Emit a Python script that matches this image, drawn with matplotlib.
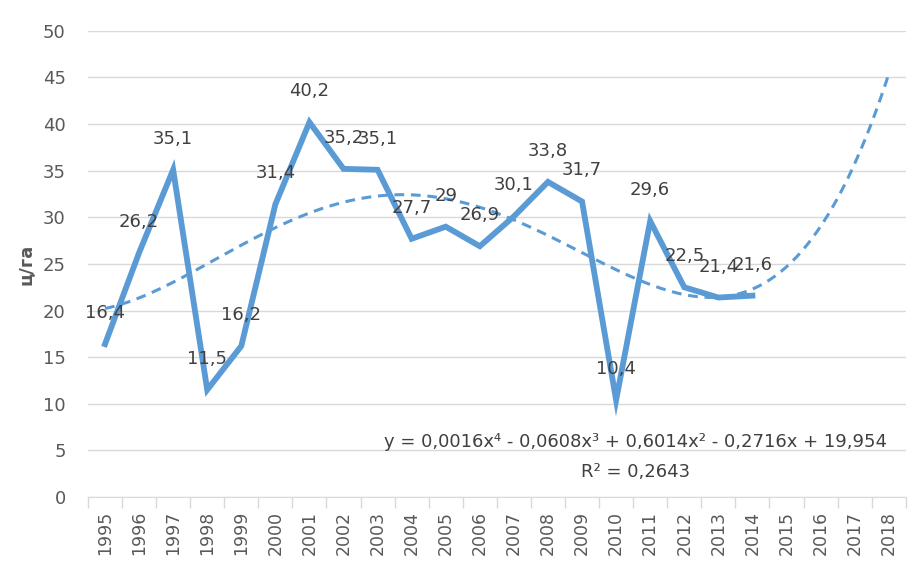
import numpy as np
import matplotlib
matplotlib.use("Agg")
import matplotlib.pyplot as plt

# данные
years = [str(y) for y in range(1995, 2019)]
yields = [16.4, 26.2, 35.1, 11.5, 16.2, 31.4, 40.2, 35.2, 35.1, 27.7,
          29.0, 26.9, 30.1, 33.8, 31.7, 10.4, 29.6, 22.5, 21.4, 21.6]
value_labels = ["16,4", "26,2", "35,1", "11,5", "16,2", "31,4", "40,2", "35,2", "35,1", "27,7",
                "29", "26,9", "30,1", "33,8", "31,7", "10,4", "29,6", "22,5", "21,4", "21,6"]
equation = "y = 0,0016x\u2074 - 0,0608x\u00b3 + 0,6014x\u00b2 - 0,2716x + 19,954"
r2_text = "R\u00b2 = 0,2643"

blue = "#5b9bd5"
txt = "#404040"
grid = "#d9d9d9"

fig = plt.figure(figsize=(9.23, 5.61), dpi=100)
ax = fig.add_axes([0.0953, 0.114, 0.886, 0.831])

n = len(yields)
x = np.arange(n)

# полиномиальный тренд 4-й степени, x = 1..n, прогноз на 4 периода вперед
coef = np.polyfit(np.arange(1, n + 1), yields, 4)
xt = np.linspace(1, len(years), 300)
ax.plot(xt - 1, np.polyval(coef, xt), color=blue, lw=2.2,
        linestyle=(0, (3.2, 2.2)), zorder=2)

ax.plot(x, yields, color=blue, lw=4.2, solid_joinstyle="miter", zorder=3)

# подписи значений над точками
for i, lab in enumerate(value_labels):
    ax.annotate(lab, (x[i], yields[i]), xytext=(0, 31),
                textcoords="offset pixels", ha="center", va="center",
                fontsize=13, color=txt, zorder=4)

ax.text(0.67, 0.118, equation, transform=ax.transAxes, ha="center", va="center",
        fontsize=13, color=txt)
ax.text(0.67, 0.054, r2_text, transform=ax.transAxes, ha="center", va="center",
        fontsize=13, color=txt)

ax.set_xlim(-0.5, len(years) - 0.5)
ax.set_ylim(0, 50)
ax.set_yticks(range(0, 51, 5))
ax.set_xticks(np.arange(len(years)))
ax.set_xticklabels(years, rotation=90)
ax.set_xticks(np.arange(len(years) + 1) - 0.5, minor=True)
ax.tick_params(axis="x", which="major", length=0, labelsize=12.5, labelcolor="#595959", pad=10)
ax.tick_params(axis="x", which="minor", length=8, color=grid, width=1)
ax.tick_params(axis="y", length=0, labelsize=13, labelcolor="#595959", pad=16)

ax.grid(axis="y", color=grid, lw=1)
ax.set_axisbelow(True)
for s in ["top", "right", "left"]:
    ax.spines[s].set_visible(False)
ax.spines["bottom"].set_color(grid)

ax.set_ylabel("ц/га", fontsize=13, fontweight="bold", color="#595959", labelpad=6)

fig.savefig("out.png", dpi=100)
